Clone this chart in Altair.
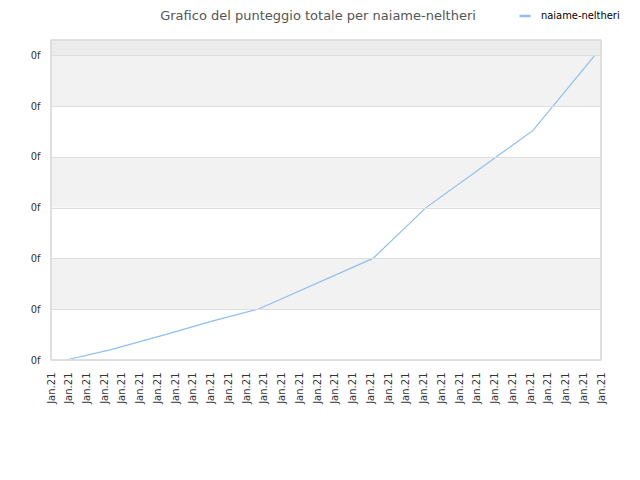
import altair as alt
import pandas as pd

# x positions in label-slot units (0..31), y values in grid units
xs = [0.85, 3.33, 6.54, 9.13, 11.67, 18.15, 21.14, 27.17, 30.66]
ys = [0.0, 0.2, 0.51, 0.77, 1.0, 2.0, 3.0, 4.52, 6.0]
series_name = "naiame-neltheri"
chart_title = ["Grafico del punteggio totale per naiame-neltheri"]
x_tick_labels = ["Jan.21"] * 32
y_tick_values = [0, 1, 2, 3, 4, 5, 6]
y_tick_label = "0f"

band_lo = [1, 3, 5, 6]
band_hi = [2, 4, 6, 6.3]
band_col = ["#f2f2f2", "#f2f2f2", "#f2f2f2", "#ececec"]

df = pd.DataFrame({"x": xs, "y": ys, "serie": [series_name] * len(xs)})
bands = pd.DataFrame({"lo": band_lo, "hi": band_hi, "c": band_col})
title_df = pd.DataFrame({"t": chart_title})

YMAX = 6.3
XMAX = len(x_tick_labels) - 1

xscale = alt.Scale(domain=[0, XMAX], nice=False, zero=False)
yscale = alt.Scale(domain=[0, YMAX], nice=False)

band_layer = alt.Chart(bands).mark_rect().encode(
    x=alt.value(0),
    x2=alt.value(550),
    y=alt.Y("lo:Q", scale=yscale, axis=alt.Axis(
        values=y_tick_values,
        labelExpr=f"'{y_tick_label}'",
        grid=True,
        gridColor="#dedede",
        domain=False,
        ticks=False,
        labelPadding=11,
        labelFont="DejaVu Sans Condensed, DejaVu Sans",
        labelFontSize=11,
        labelColor="#333333",
        title=None,
        zindex=1,
    )),
    y2="hi:Q",
    fill=alt.Fill("c:N", scale=None, legend=None),
)

line_layer = alt.Chart(df).mark_line(strokeWidth=1.2).encode(
    x=alt.X("x:Q", scale=xscale, axis=alt.Axis(
        values=list(range(len(x_tick_labels))),
        labelExpr="'Jan.21'",
        labelAngle=-90,
        labelAlign="right",
        labelBaseline="middle",
        labelPadding=12,
        labelFlush=False,
        labelOverlap=False,
        labelFont="DejaVu Sans",
        labelFontSize=10,
        labelColor="#333333",
        grid=False,
        ticks=False,
        domain=False,
        title=None,
    )),
    y=alt.Y("y:Q", scale=yscale),
    stroke=alt.Stroke("serie:N", scale=alt.Scale(range=["#8fbef0"]), legend=alt.Legend(
        title=None,
        orient="none",
        legendX=467,
        legendY=-31,
        symbolType="stroke",
        symbolStrokeWidth=2.5,
        symbolSize=120,
        labelOffset=9,
        labelFont="DejaVu Sans Condensed, DejaVu Sans",
        labelFontSize=11,
        labelColor="#000000",
    )),
)

border_layer = alt.Chart(bands).mark_rect(
    fillOpacity=0, stroke="#dcdcdc", strokeWidth=1
).encode(
    x=alt.value(0), x2=alt.value(550), y=alt.value(0), y2=alt.value(320)
)

title_layer = alt.Chart(title_df).mark_text(
    font="DejaVu Sans", fontSize=13, color="#555555",
    align="center", baseline="middle",
).encode(
    x=alt.value(267), y=alt.value(-24), text="t:N"
)

chart = alt.layer(band_layer, line_layer, border_layer, title_layer).resolve_scale(
    fill="independent", stroke="independent"
).properties(
    width=550,
    height=320,
    autosize=alt.AutoSizeParams(type="none"),
    padding={"left": 43, "top": 32, "right": 31, "bottom": 112},
).configure_view(stroke=None)

chart.save("out.html", embed_options={"renderer": "svg", "actions": False})
